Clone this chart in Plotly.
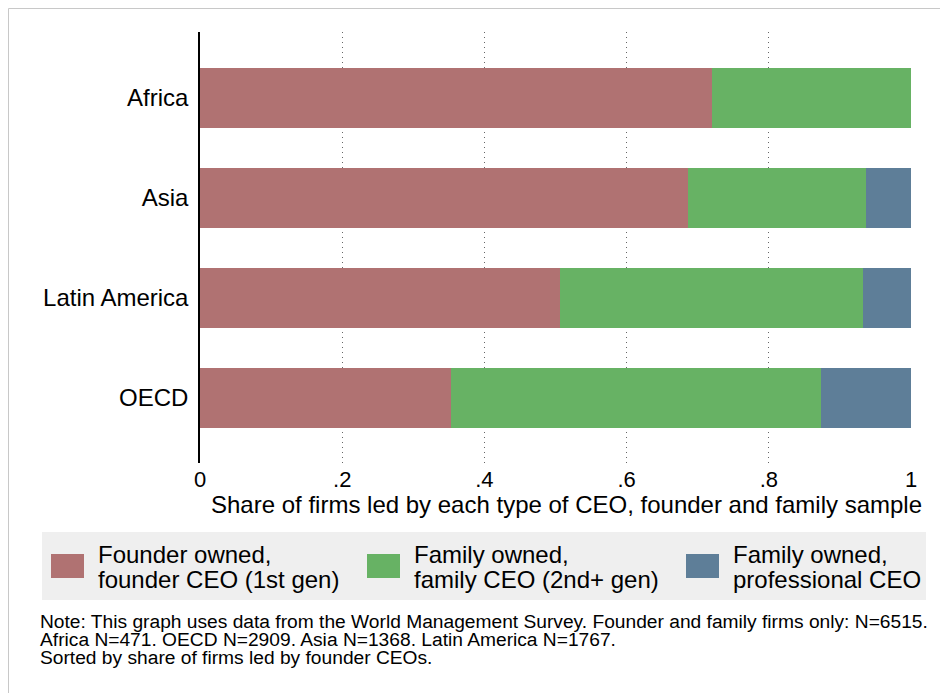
import plotly.graph_objects as go

# ---- data ----
regions = ["Africa", "Asia", "Latin America", "OECD"]
founder_ceo = [0.720, 0.686, 0.507, 0.353]
family_ceo = [0.280, 0.251, 0.426, 0.520]
professional_ceo = [0.000, 0.063, 0.067, 0.127]

series_names = [
    ["Founder owned,", "founder CEO (1st gen)"],
    ["Family owned,", "family CEO (2nd+ gen)"],
    ["Family owned,", "professional CEO"],
]
tick_vals = [0, 0.2, 0.4, 0.6, 0.8, 1.0]
tick_text = ["0", ".2", ".4", ".6", ".8", "1"]
axis_title = "Share of firms led by each type of CEO, founder and family sample"
note_lines = [
    "Note: This graph uses data from the World Management Survey. Founder and family firms only: N=6515.",
    "Africa N=471. OECD N=2909. Asia N=1368. Latin America N=1767.",
    "Sorted by share of firms led by founder CEOs.",
]

colors = ["#b07272", "#67b264", "#5e7e98"]
FONT = "Liberation Sans, Arial, Helvetica, sans-serif"

# page body has an 8px margin; work in window pixels and convert
OFF = 8
W, H = 940, 685
L, T = 200 - OFF, 32 - OFF
R = W - (911 - OFF)
B = H - (463 - OFF)
PW = W - L - R
PH = H - T - B


def px_x(px):
    return (px - OFF - L) / PW


def px_y(py):
    return (T + PH - (py - OFF)) / PH


fig = go.Figure()
for vals, name, col in zip([founder_ceo, family_ceo, professional_ceo], series_names, colors):
    fig.add_trace(go.Bar(
        y=regions, x=vals, orientation="h", name=" ".join(name),
        marker=dict(color=col, line=dict(width=0)), width=0.6, showlegend=False,
    ))

shapes = []
annotations = []

# outer frame (top and left edges)
shapes.append(dict(type="line", xref="paper", yref="paper",
                   x0=px_x(8.5), x1=px_x(W + 20), y0=px_y(8.5), y1=px_y(8.5),
                   line=dict(color="#c8c8c8", width=1)))
shapes.append(dict(type="line", xref="paper", yref="paper",
                   x0=px_x(8.5), x1=px_x(8.5), y0=px_y(8.5), y1=px_y(H + 20),
                   line=dict(color="#c8c8c8", width=1)))

# legend background
shapes.append(dict(type="rect", xref="paper", yref="paper",
                   x0=px_x(42), x1=px_x(926), y0=px_y(532), y1=px_y(600),
                   fillcolor="#efefef", line=dict(width=0), layer="below"))
sq_x = [51, 367, 686]
for sx, col, name in zip(sq_x, colors, series_names):
    shapes.append(dict(type="rect", xref="paper", yref="paper",
                       x0=px_x(sx), x1=px_x(sx + 33), y0=px_y(554), y1=px_y(578),
                       fillcolor=col, line=dict(width=0)))
    for line_txt, cy in zip(name, [554.5, 579.5]):
        annotations.append(dict(text=line_txt, xref="paper", yref="paper",
                                x=px_x(sx + 45), y=px_y(cy), xanchor="left", yanchor="middle",
                                showarrow=False, font=dict(family=FONT, size=24, color="#000")))

# x axis title
annotations.append(dict(text=axis_title, xref="paper", yref="paper",
                        x=px_x(566), y=px_y(504), xanchor="center", yanchor="middle",
                        showarrow=False, font=dict(family=FONT, size=24, color="#000")))

# note
for txt, cy in zip(note_lines, [621.5, 639.5, 657.5]):
    annotations.append(dict(text=txt, xref="paper", yref="paper",
                            x=px_x(38), y=px_y(cy), xanchor="left", yanchor="middle",
                            showarrow=False, font=dict(family=FONT, size=19.2, color="#000")))

fig.update_layout(
    width=W, height=H,
    margin=dict(l=L, r=R, t=T, b=B, pad=0),
    barmode="stack", bargap=0.4,
    paper_bgcolor="white", plot_bgcolor="white",
    font=dict(family=FONT, color="#000"),
    shapes=shapes, annotations=annotations,
    xaxis=dict(range=[0, 1.0], tickvals=tick_vals, ticktext=tick_text,
               showgrid=True, gridcolor="#666", griddash="1px,4px", gridwidth=1,
               zeroline=False, showline=False, ticks="", ticklabelstandoff=1,
               tickfont=dict(family=FONT, size=22, color="#000")),
    yaxis=dict(type="category", categoryorder="array", categoryarray=regions,
               range=[3.65, -0.66], showgrid=False, zeroline=False,
               showline=True, linecolor="#000", linewidth=1.5, ticks="",
               ticklabelstandoff=5,
               tickfont=dict(family=FONT, size=24, color="#000")),
)

fig.write_html("out.html")
